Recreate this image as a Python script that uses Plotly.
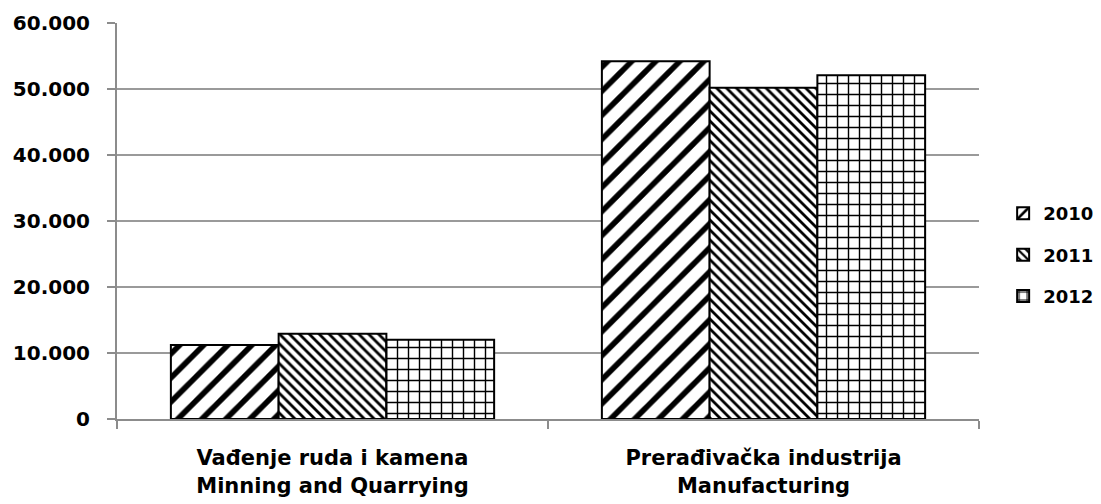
import plotly.graph_objects as go

categories = ["Vađenje ruda i kamena<br>Minning and Quarrying",
              "Prerađivačka industrija<br>Manufacturing"]
years = ["2010", "2011", "2012"]
values_2010 = [11200, 54200]
values_2011 = [12900, 50200]
values_2012 = [12000, 52100]
y_ticks = [0, 10000, 20000, 30000, 40000, 50000, 60000]

series = [values_2010, values_2011, values_2012]
patterns = [dict(shape="/", size=17, solidity=0.33),
            dict(shape="\\", size=7, solidity=0.4),
            dict(shape="+", size=11, solidity=0.24)]

FONT = "DejaVu Sans"
fig = go.Figure()
for yr, vals, pat in zip(years, series, patterns):
    fig.add_trace(go.Bar(
        x=categories, y=vals, name=yr, legendgroup=yr,
        marker=dict(color="white",
                    line=dict(color="black", width=2),
                    pattern=dict(fgcolor="black", bgcolor="white",
                                 fillmode="replace", **pat)),
    ))

# page body has an 8px margin; size the figure so the plot lands where the reference has it
fig.update_layout(
    width=1093, height=496,
    margin=dict(l=109, r=122, t=15, b=85, autoexpand=False),
    paper_bgcolor="white", plot_bgcolor="white",
    barmode="group", bargap=0.25, bargroupgap=0,
    separators=",.",
    font=dict(family=FONT, color="black"),
    legend=dict(x=1.028, xanchor="left", y=0.414, yanchor="middle",
                traceorder="grouped", tracegroupgap=15,
                font=dict(family=FONT, size=18, weight="bold")),
)
fig.update_xaxes(
    type="category", showline=True, linecolor="#8c8c8c", linewidth=2,
    ticks="outside", tickson="boundaries", ticklen=8, tickcolor="#8c8c8c",
    tickwidth=2, showgrid=False, ticklabelstandoff=19,
    tickfont=dict(family=FONT, size=21, weight="bold", color="black"),
)
fig.update_yaxes(
    range=[0, 60000], tickvals=y_ticks, tickformat=",d",
    showline=True, linecolor="#8c8c8c", linewidth=2,
    ticks="outside", ticklen=8, tickcolor="#8c8c8c", tickwidth=2,
    showgrid=True, gridcolor="#9a9a9a", gridwidth=2, zeroline=False,
    ticklabelstandoff=13,
    tickfont=dict(family=FONT, size=20, weight="bold", color="black"),
)

fig.write_html("out.html")
